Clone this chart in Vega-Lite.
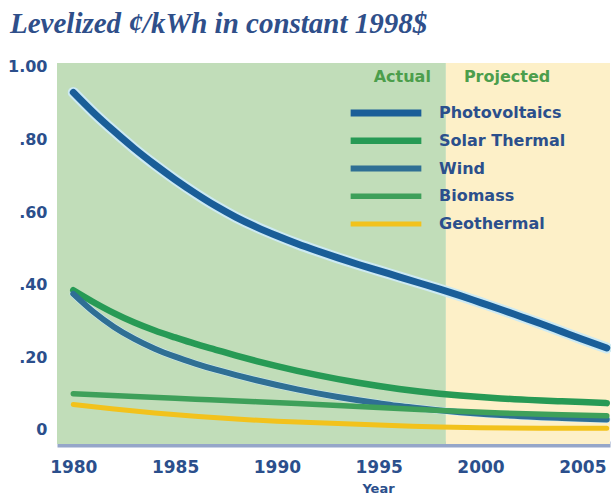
{
  "$schema": "https://vega.github.io/schema/vega-lite/v6.json",
  "width": 553,
  "height": 381,
  "autosize": {"type": "none"},
  "padding": {"left": 57, "top": 63, "right": 1, "bottom": 50},
  "background": "white",
  "config": {"view": {"stroke": null}},
  "title": {
    "text": "Levelized ¢/kWh in constant 1998$",
    "anchor": "start",
    "frame": "group",
    "dx": -47,
    "offset": -3,
    "baseline": "alphabetic",
    "font": "Liberation Serif",
    "fontStyle": "italic",
    "fontWeight": "bold",
    "fontSize": 29,
    "color": "#2f4f8a"
  },
  "datasets": {
    "regions": [
      {"region": "Actual", "start": 1979.2, "end": 1998.3},
      {"region": "Projected", "start": 1998.3, "end": 2006.36}
    ],
    "cost": [
      {"source": "Photovoltaics", "year": 1980, "cost": 0.93},
      {"source": "Photovoltaics", "year": 1981, "cost": 0.874},
      {"source": "Photovoltaics", "year": 1982, "cost": 0.823},
      {"source": "Photovoltaics", "year": 1983, "cost": 0.775},
      {"source": "Photovoltaics", "year": 1984, "cost": 0.731},
      {"source": "Photovoltaics", "year": 1985, "cost": 0.69},
      {"source": "Photovoltaics", "year": 1986, "cost": 0.652},
      {"source": "Photovoltaics", "year": 1987, "cost": 0.617},
      {"source": "Photovoltaics", "year": 1988, "cost": 0.586},
      {"source": "Photovoltaics", "year": 1989, "cost": 0.559},
      {"source": "Photovoltaics", "year": 1990, "cost": 0.535},
      {"source": "Photovoltaics", "year": 1991, "cost": 0.513},
      {"source": "Photovoltaics", "year": 1992, "cost": 0.493},
      {"source": "Photovoltaics", "year": 1993, "cost": 0.474},
      {"source": "Photovoltaics", "year": 1994, "cost": 0.456},
      {"source": "Photovoltaics", "year": 1995, "cost": 0.439},
      {"source": "Photovoltaics", "year": 1996, "cost": 0.422},
      {"source": "Photovoltaics", "year": 1997, "cost": 0.405},
      {"source": "Photovoltaics", "year": 1998, "cost": 0.388},
      {"source": "Photovoltaics", "year": 1999, "cost": 0.37},
      {"source": "Photovoltaics", "year": 2000, "cost": 0.351},
      {"source": "Photovoltaics", "year": 2001, "cost": 0.332},
      {"source": "Photovoltaics", "year": 2002, "cost": 0.312},
      {"source": "Photovoltaics", "year": 2003, "cost": 0.292},
      {"source": "Photovoltaics", "year": 2004, "cost": 0.271},
      {"source": "Photovoltaics", "year": 2005, "cost": 0.25},
      {"source": "Photovoltaics", "year": 2006.2, "cost": 0.226},
      {"source": "Solar Thermal", "year": 1980, "cost": 0.385},
      {"source": "Solar Thermal", "year": 1981, "cost": 0.352},
      {"source": "Solar Thermal", "year": 1982, "cost": 0.322},
      {"source": "Solar Thermal", "year": 1983, "cost": 0.296},
      {"source": "Solar Thermal", "year": 1984, "cost": 0.274},
      {"source": "Solar Thermal", "year": 1985, "cost": 0.255},
      {"source": "Solar Thermal", "year": 1986, "cost": 0.237},
      {"source": "Solar Thermal", "year": 1987, "cost": 0.221},
      {"source": "Solar Thermal", "year": 1988, "cost": 0.205},
      {"source": "Solar Thermal", "year": 1989, "cost": 0.19},
      {"source": "Solar Thermal", "year": 1990, "cost": 0.176},
      {"source": "Solar Thermal", "year": 1991, "cost": 0.163},
      {"source": "Solar Thermal", "year": 1992, "cost": 0.151},
      {"source": "Solar Thermal", "year": 1993, "cost": 0.14},
      {"source": "Solar Thermal", "year": 1994, "cost": 0.13},
      {"source": "Solar Thermal", "year": 1995, "cost": 0.121},
      {"source": "Solar Thermal", "year": 1996, "cost": 0.113},
      {"source": "Solar Thermal", "year": 1997, "cost": 0.106},
      {"source": "Solar Thermal", "year": 1998, "cost": 0.1},
      {"source": "Solar Thermal", "year": 1999, "cost": 0.095},
      {"source": "Solar Thermal", "year": 2000, "cost": 0.091},
      {"source": "Solar Thermal", "year": 2001, "cost": 0.087},
      {"source": "Solar Thermal", "year": 2002, "cost": 0.084},
      {"source": "Solar Thermal", "year": 2003, "cost": 0.081},
      {"source": "Solar Thermal", "year": 2004, "cost": 0.079},
      {"source": "Solar Thermal", "year": 2005, "cost": 0.077},
      {"source": "Solar Thermal", "year": 2006.2, "cost": 0.074},
      {"source": "Wind", "year": 1980, "cost": 0.375},
      {"source": "Wind", "year": 1981, "cost": 0.325},
      {"source": "Wind", "year": 1982, "cost": 0.284},
      {"source": "Wind", "year": 1983, "cost": 0.251},
      {"source": "Wind", "year": 1984, "cost": 0.224},
      {"source": "Wind", "year": 1985, "cost": 0.202},
      {"source": "Wind", "year": 1986, "cost": 0.183},
      {"source": "Wind", "year": 1987, "cost": 0.166},
      {"source": "Wind", "year": 1988, "cost": 0.151},
      {"source": "Wind", "year": 1989, "cost": 0.137},
      {"source": "Wind", "year": 1990, "cost": 0.124},
      {"source": "Wind", "year": 1991, "cost": 0.112},
      {"source": "Wind", "year": 1992, "cost": 0.101},
      {"source": "Wind", "year": 1993, "cost": 0.091},
      {"source": "Wind", "year": 1994, "cost": 0.082},
      {"source": "Wind", "year": 1995, "cost": 0.074},
      {"source": "Wind", "year": 1996, "cost": 0.066},
      {"source": "Wind", "year": 1997, "cost": 0.06},
      {"source": "Wind", "year": 1998, "cost": 0.054},
      {"source": "Wind", "year": 1999, "cost": 0.049},
      {"source": "Wind", "year": 2000, "cost": 0.045},
      {"source": "Wind", "year": 2001, "cost": 0.041},
      {"source": "Wind", "year": 2002, "cost": 0.038},
      {"source": "Wind", "year": 2003, "cost": 0.035},
      {"source": "Wind", "year": 2004, "cost": 0.033},
      {"source": "Wind", "year": 2005, "cost": 0.031},
      {"source": "Wind", "year": 2006.2, "cost": 0.029},
      {"source": "Biomass", "year": 1980, "cost": 0.1},
      {"source": "Biomass", "year": 1983, "cost": 0.092},
      {"source": "Biomass", "year": 1986, "cost": 0.085},
      {"source": "Biomass", "year": 1989, "cost": 0.078},
      {"source": "Biomass", "year": 1992, "cost": 0.07},
      {"source": "Biomass", "year": 1995, "cost": 0.062},
      {"source": "Biomass", "year": 1998, "cost": 0.054},
      {"source": "Biomass", "year": 2001, "cost": 0.047},
      {"source": "Biomass", "year": 2004, "cost": 0.042},
      {"source": "Biomass", "year": 2006.2, "cost": 0.039},
      {"source": "Geothermal", "year": 1980, "cost": 0.07},
      {"source": "Geothermal", "year": 1982, "cost": 0.058},
      {"source": "Geothermal", "year": 1984, "cost": 0.047},
      {"source": "Geothermal", "year": 1986, "cost": 0.038},
      {"source": "Geothermal", "year": 1988, "cost": 0.03},
      {"source": "Geothermal", "year": 1990, "cost": 0.024},
      {"source": "Geothermal", "year": 1992, "cost": 0.02},
      {"source": "Geothermal", "year": 1994, "cost": 0.016},
      {"source": "Geothermal", "year": 1996, "cost": 0.012},
      {"source": "Geothermal", "year": 1998, "cost": 0.008},
      {"source": "Geothermal", "year": 2000, "cost": 0.006},
      {"source": "Geothermal", "year": 2003, "cost": 0.005},
      {"source": "Geothermal", "year": 2006.2, "cost": 0.005}
    ]
  },
  "layer": [
    {
      "data": {"name": "regions"},
      "mark": {"type": "rect"},
      "encoding": {
        "x": {"field": "start", "type": "quantitative", "scale": {"domain": [1979.2, 2006.36], "nice": false, "zero": false}},
        "x2": {"field": "end"},
        "fill": {"field": "region", "type": "nominal", "scale": {"domain": ["Actual", "Projected"], "range": ["#c1ddb9", "#fdf0c8"]}, "legend": null}
      }
    },
    {
      "data": {"name": "regions"},
      "transform": [{"filter": "datum.region == 'Actual'"}],
      "mark": {"type": "text", "align": "right", "baseline": "middle", "dx": -15, "font": "DejaVu Sans", "fontWeight": "bold", "fontSize": 16, "color": "#4c9e4c"},
      "encoding": {
        "x": {"field": "end", "type": "quantitative", "scale": {"domain": [1979.2, 2006.36], "nice": false, "zero": false}},
        "y": {"datum": 0.972, "type": "quantitative", "scale": {"domain": [-0.0386, 1.011], "nice": false, "zero": false}},
        "text": {"field": "region"}
      }
    },
    {
      "data": {"name": "regions"},
      "transform": [{"filter": "datum.region == 'Projected'"}],
      "mark": {"type": "text", "align": "left", "baseline": "middle", "dx": 18, "font": "DejaVu Sans", "fontWeight": "bold", "fontSize": 16, "color": "#4c9e4c"},
      "encoding": {
        "x": {"field": "start", "type": "quantitative", "scale": {"domain": [1979.2, 2006.36], "nice": false, "zero": false}},
        "y": {"datum": 0.972, "type": "quantitative", "scale": {"domain": [-0.0386, 1.011], "nice": false, "zero": false}},
        "text": {"field": "region"}
      }
    },
    {
      "data": {"name": "cost"},
      "transform": [{"filter": "datum.source == 'Photovoltaics'"}],
      "mark": {"type": "line", "interpolate": "monotone", "strokeWidth": 11, "color": "#cdeaf3", "strokeCap": "round"},
      "encoding": {
        "x": {"field": "year", "type": "quantitative", "scale": {"domain": [1979.2, 2006.36], "nice": false, "zero": false}},
        "y": {"field": "cost", "type": "quantitative", "scale": {"domain": [-0.0386, 1.011], "nice": false, "zero": false}}
      }
    },
    {
      "data": {"name": "cost"},
      "transform": [{"filter": "datum.source == 'Wind'"}],
      "mark": {"type": "line", "interpolate": "monotone", "strokeWidth": 7, "color": "#cdeaf3", "strokeCap": "round"},
      "encoding": {
        "x": {"field": "year", "type": "quantitative", "scale": {"domain": [1979.2, 2006.36], "nice": false, "zero": false}},
        "y": {"field": "cost", "type": "quantitative", "scale": {"domain": [-0.0386, 1.011], "nice": false, "zero": false}}
      }
    },
    {
      "data": {"name": "cost"},
      "mark": {"type": "line", "interpolate": "monotone", "strokeCap": "round"},
      "encoding": {
        "x": {
          "field": "year", "type": "quantitative",
          "scale": {"domain": [1979.2, 2006.36], "nice": false, "zero": false},
          "axis": {
            "values": [1980, 1985, 1990, 1995, 2000, 2005],
            "format": "d",
            "title": "Year",
            "titleFont": "DejaVu Sans", "titleFontWeight": "bold", "titleFontSize": 13, "titleColor": "#2b4f8c",
            "titleX": 321, "titleY": 38,
            "labelFont": "DejaVu Sans", "labelFontWeight": "bold", "labelFontSize": 17, "labelColor": "#2b4f8c",
            "labelPadding": 15, "labelOverlap": false, "labelFlush": false,
            "ticks": false, "grid": false,
            "domain": true, "domainColor": "#95a6c9", "domainWidth": 6
          }
        },
        "y": {
          "field": "cost", "type": "quantitative",
          "scale": {"domain": [-0.0386, 1.011], "nice": false, "zero": false},
          "axis": {
            "values": [0, 0.2, 0.4, 0.6, 0.8, 1.0],
            "labelExpr": "datum.value == 0 ? '0' : datum.value >= 1 ? '1.00' : slice(format(datum.value, '.2f'), 1)",
            "title": null,
            "labelFont": "DejaVu Sans", "labelFontWeight": "bold", "labelFontSize": 16, "labelColor": "#2b4f8c",
            "labelPadding": 10, "labelOverlap": false, "labelFlush": false,
            "ticks": false, "grid": false, "domain": false
          }
        },
        "color": {
          "field": "source", "type": "nominal",
          "scale": {"domain": ["Photovoltaics", "Solar Thermal", "Wind", "Biomass", "Geothermal"], "range": ["#1a5e98", "#279a55", "#2f6f94", "#3ea05a", "#f2c21c"]},
          "legend": {"title": null, "orient": "none", "legendX": 290, "legendY": 37, "symbolType": "stroke", "symbolSize": 5000, "labelFont": "DejaVu Sans", "labelFontWeight": "bold", "labelFontSize": 16, "labelColor": "#2b4f8c", "labelOffset": 14, "clipHeight": 26, "rowPadding": 1.75, "padding": 0}
        },
        "strokeWidth": {
          "field": "source", "type": "nominal",
          "scale": {"domain": ["Photovoltaics", "Solar Thermal", "Wind", "Biomass", "Geothermal"], "range": [7, 5, 4, 3.5, 7]},
          "legend": {"title": null, "orient": "none", "legendX": 290, "legendY": 37, "symbolType": "stroke", "symbolSize": 5000, "labelFont": "DejaVu Sans", "labelFontWeight": "bold", "labelFontSize": 16, "labelColor": "#2b4f8c", "labelOffset": 14, "clipHeight": 26, "rowPadding": 1.75, "padding": 0}
        },
        "order": {"field": "year", "type": "quantitative"}
      }
    },
    {
      "mark": {"type": "rule", "color": "#8ea4cc", "strokeWidth": 3},
      "encoding": {
        "x": {"datum": 2006.3, "type": "quantitative", "scale": {"domain": [1979.2, 2006.36], "nice": false, "zero": false}}
      }
    }
  ]
}
